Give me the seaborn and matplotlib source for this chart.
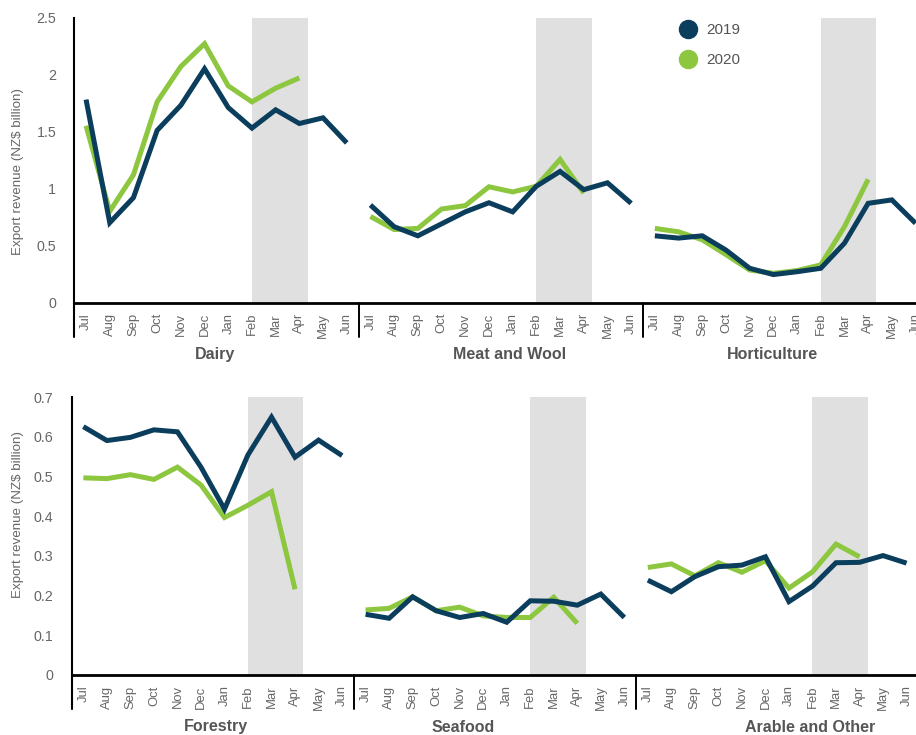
import matplotlib
matplotlib.use("Agg")
import matplotlib.pyplot as plt
import matplotlib.transforms as mtransforms
from matplotlib.lines import Line2D
from matplotlib import font_manager
import numpy as np
import pandas as pd
import seaborn as sns

# ---- data (NZ$ billion, monthly export revenue, Jul-Jun) ----
months = ["Jul", "Aug", "Sep", "Oct", "Nov", "Dec", "Jan", "Feb", "Mar", "Apr", "May", "Jun"]
years = ["2019", "2020"]

top_sectors = ["Dairy", "Meat and Wool", "Horticulture"]
bottom_sectors = ["Forestry", "Seafood", "Arable and Other"]

dairy_2019 = [1.78, 0.70, 0.92, 1.51, 1.73, 2.05, 1.71, 1.53, 1.69, 1.57, 1.62, 1.40]
dairy_2020 = [1.55, 0.80, 1.12, 1.76, 2.07, 2.27, 1.90, 1.76, 1.88, 1.97]

meat_2019 = [0.855, 0.665, 0.585, 0.69, 0.795, 0.875, 0.795, 1.02, 1.15, 0.99, 1.05, 0.87]
meat_2020 = [0.755, 0.64, 0.65, 0.82, 0.85, 1.015, 0.97, 1.02, 1.255, 0.96]

horti_2019 = [0.585, 0.565, 0.585, 0.46, 0.30, 0.245, 0.27, 0.30, 0.52, 0.87, 0.90, 0.695]
horti_2020 = [0.65, 0.62, 0.55, 0.42, 0.285, 0.256, 0.28, 0.33, 0.665, 1.08]

forestry_2019 = [0.626, 0.591, 0.599, 0.618, 0.613, 0.524, 0.418, 0.555, 0.650, 0.549, 0.592, 0.553]
forestry_2020 = [0.497, 0.495, 0.505, 0.493, 0.524, 0.479, 0.397, 0.428, 0.462, 0.216]

seafood_2019 = [0.153, 0.143, 0.197, 0.162, 0.145, 0.155, 0.133, 0.187, 0.186, 0.176, 0.204, 0.145]
seafood_2020 = [0.164, 0.168, 0.197, 0.162, 0.171, 0.149, 0.145, 0.145, 0.196, 0.130]

arable_2019 = [0.239, 0.210, 0.248, 0.273, 0.277, 0.298, 0.185, 0.224, 0.283, 0.284, 0.301, 0.282]
arable_2020 = [0.271, 0.280, 0.250, 0.283, 0.259, 0.288, 0.219, 0.260, 0.330, 0.298]

top_series = {
    "Dairy": (dairy_2019, dairy_2020),
    "Meat and Wool": (meat_2019, meat_2020),
    "Horticulture": (horti_2019, horti_2020),
}
bottom_series = {
    "Forestry": (forestry_2019, forestry_2020),
    "Seafood": (seafood_2019, seafood_2020),
    "Arable and Other": (arable_2019, arable_2020),
}

NAVY = "#0b3d5c"
GREEN = "#8dc63f"
SHADE = "#e0e0e0"
GREY_TXT = "#666666"
DARK_TXT = "#555555"
palette = {"2019": NAVY, "2020": GREEN}


def long_frame(series, sectors):
    rows = []
    for g, sector in enumerate(sectors):
        for year, vals in zip(years, series[sector]):
            for i, v in enumerate(vals):
                rows.append({"sector": sector, "year": year, "month": months[i],
                             "pos": g * 12 + i, "value": v})
    return pd.DataFrame(rows)


sns.set_style("white")
available = {f.name for f in font_manager.fontManager.ttflist}
narrow = "Liberation Sans Narrow" if "Liberation Sans Narrow" in available else "Liberation Sans"
plt.rcParams["font.family"] = ["Liberation Sans", "DejaVu Sans"]

W, H = 916, 735
fig = plt.figure(figsize=(W / 100, H / 100), dpi=100)

# axes placement in pixels: (left, data step, y of zero, height)
layouts = [
    dict(left=74.2, step=23.7, y0=302.5, h=285.0, ymax=2.5,
         yticks=[0, 0.5, 1, 1.5, 2, 2.5], ylabels=["0", "0.5", "1", "1.5", "2", "2.5"],
         series=top_series, sectors=top_sectors, label_x=[5.45, 17.85, 28.95]),
    dict(left=71.6, step=23.52, y0=675.0, h=277.7, ymax=0.7,
         yticks=[0, 0.1, 0.2, 0.3, 0.4, 0.5, 0.6, 0.7],
         ylabels=["0", "0.1", "0.2", "0.3", "0.4", "0.5", "0.6", "0.7"],
         series=bottom_series, sectors=bottom_sectors, label_x=[5.65, 16.15, 30.9]),
]

axes = []
for lay in layouts:
    width_px = 36 * lay["step"]
    ax = fig.add_axes([lay["left"] / W, 1 - lay["y0"] / H, width_px / W, lay["h"] / H])
    axes.append(ax)
    df = long_frame(lay["series"], lay["sectors"])

    # Feb-Apr shaded band in each sector block
    for g in range(3):
        ax.axvspan(g * 12 + 7, g * 12 + 9.35, color=SHADE, lw=0, zorder=0)

    sns.lineplot(data=df, x="pos", y="value", hue="year", units="sector",
                 estimator=None, palette=palette, hue_order=["2020", "2019"],
                 lw=3.6, legend=False, ax=ax, zorder=3)
    for ln in ax.lines:
        ln.set_solid_capstyle("butt")
        ln.set_solid_joinstyle("miter")

    ax.set_xlim(-0.5, 35.5)
    ax.set_ylim(0, lay["ymax"])
    ax.set_xlabel("")
    ax.set_ylabel("")

    ax.set_xticks(range(36))
    ax.set_xticklabels(months * 3, rotation=90, fontsize=9.4, color=GREY_TXT,
                       family=[narrow, "DejaVu Sans"], va="top", ha="center")
    ax.set_yticks(lay["yticks"])
    ax.set_yticklabels(lay["ylabels"], fontsize=10.3, color=GREY_TXT)
    ax.tick_params(axis="x", length=0, pad=7.5)
    ax.tick_params(axis="y", length=0, pad=13)

    for s in ["top", "right"]:
        ax.spines[s].set_visible(False)
    ax.spines["bottom"].set_linewidth(2.0)
    ax.spines["bottom"].set_color("black")
    ax.spines["left"].set_linewidth(1.5)
    ax.spines["left"].set_color("black")
    ax.spines["bottom"].set_zorder(4)

    # block separators extending below the axis
    trans = mtransforms.blended_transform_factory(ax.transData, ax.transAxes)
    drop = -34.0 / lay["h"]
    for x in [-0.5, 11.5, 23.5, 35.5]:
        ax.add_line(Line2D([x, x], [0, drop], transform=trans, color="black",
                           lw=1.4 if x > 0 else 1.5, clip_on=False))

    # sector names
    for name, lx in zip(lay["sectors"], lay["label_x"]):
        ax.text(lx, -52.0 / lay["h"], name, transform=trans, ha="center", va="center",
                fontsize=11.5, fontweight="bold", color=DARK_TXT,
                family=[narrow, "DejaVu Sans"])

# y-axis titles
fig.text(18 / W, 1 - 171.5 / H, "Export revenue (NZ$ billion)", rotation=90,
         ha="center", va="center", fontsize=9.6, color=GREY_TXT)
fig.text(18 / W, 1 - 515 / H, "Export revenue (NZ$ billion)", rotation=90,
         ha="center", va="center", fontsize=9.6, color=GREY_TXT)

# legend
handles = [Line2D([], [], marker="o", ls="", markersize=13, color=palette[y]) for y in years]
fig.legend(handles, years, loc="upper left", bbox_to_anchor=(673 / W, 1 - 23 / H),
           frameon=False, fontsize=11, labelcolor=DARK_TXT, handletextpad=0.2,
           labelspacing=1.05, borderaxespad=0, borderpad=0)

fig.savefig("out.png", dpi=100)
